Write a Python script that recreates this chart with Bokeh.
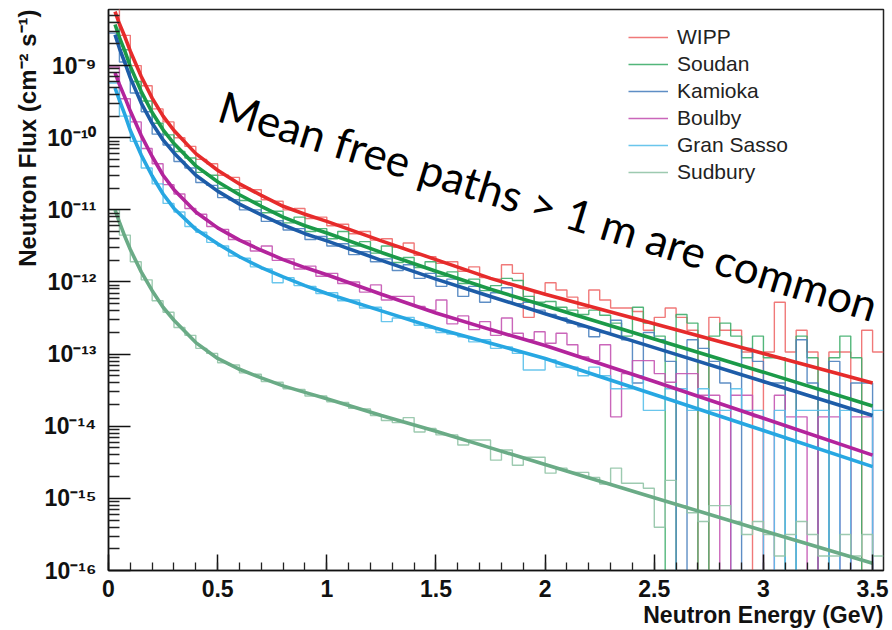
import numpy as np
from bokeh.plotting import figure
from bokeh.models import (Range1d, FixedTicker, CustomJSTickFormatter, Label,
                          Legend, LegendItem, Title)
from bokeh.embed import file_html
from bokeh.resources import INLINE

# ---------------- data (log10 of neutron flux, cm^-2 s^-1) ----------------
series_names = ["WIPP", "Soudan", "Kamioka", "Boulby", "Gran Sasso", "Sudbury"]
bin_width = 0.05          # GeV
n_bins = 71               # 0 .. 3.55 GeV

# histogram contents per 0.05 GeV bin, log10(flux); None = empty bin
hist_wipp = [
    -8.18, -8.58, -9.00, -9.28, -9.60, -9.78, -10.00, -10.12, -10.30, -10.36,
    -10.52, -10.55, -10.70, -10.72, -10.86, -10.88, -11.00, -10.98, -11.12, -11.10,
    -11.22, -11.20, -11.33, -11.30, -11.42, -11.40, -11.52, -11.46, -11.63, -11.65,
    -11.74, -11.72, -11.85, -11.79, -11.94, -11.96, -11.76, -11.88, -12.49, -12.15,
    -12.01, -12.11, -12.21, -12.36, -12.11, -12.25, -12.36, -12.36, -12.41, -12.67,
    -12.49, -12.36, -12.49, -12.67, None, -12.49, -12.67, -12.67, -12.97, None,
    -12.97, -12.28, -12.97, -12.67, -12.97, None, -12.97, -12.97, None, -12.67, -12.97]
hist_soudan = [
    -8.40, -8.78, -9.22, -9.49, -9.80, -9.96, -10.19, -10.28, -10.48, -10.52,
    -10.70, -10.72, -10.87, -10.88, -11.04, -11.02, -11.18, -11.10, -11.30, -11.26,
    -11.40, -11.30, -11.50, -11.44, -11.60, -11.50, -11.73, -11.66, -11.80, -11.72,
    -11.92, -11.86, -12.02, -11.96, -12.12, -12.05, -11.95, -11.98, -12.20, -12.28,
    -12.27, -12.35, -12.39, -12.45, -12.39, -12.46, -12.57, -12.75, -12.35, -12.57,
    -12.75, None, -12.45, -12.57, None, -12.75, -12.57, -12.75, -13.05, -12.75,
    -13.05, -13.05, None, -12.75, -13.05, None, -13.05, -12.75, -13.05, None, None]
hist_kamioka = [
    -8.55, -8.95, -9.38, -9.64, -9.95, -10.10, -10.33, -10.42, -10.62, -10.66,
    -10.83, -10.86, -11.00, -11.00, -11.16, -11.15, -11.28, -11.26, -11.41, -11.37,
    -11.50, -11.47, -11.62, -11.58, -11.72, -11.68, -11.84, -11.76, -11.95, -11.88,
    -12.06, -11.96, -12.20, -12.06, -12.28, -12.15, -12.08, -12.30, -12.28, -12.39,
    -12.45, -12.50, -12.57, -12.62, -12.76, -12.70, -12.53, -12.80, -13.40, -12.70,
    -12.80, -13.10, None, -12.80, -12.92, -13.10, -13.40, None, -12.92, -13.10,
    -13.40, -13.40, None, -12.80, -13.40, None, -13.10, None, -13.40, -13.40, None]
hist_boulby = [
    -9.02, -9.46, -9.78, -10.15, -10.36, -10.65, -10.78, -10.98, -11.06, -11.23,
    -11.27, -11.41, -11.43, -11.57, -11.50, -11.70, -11.68, -11.82, -11.78, -11.92,
    -11.88, -12.02, -12.00, -12.14, -12.04, -12.25, -12.20, -12.20, -12.34, -12.39,
    -12.25, -12.58, -12.47, -12.66, -12.55, -12.74, -12.50, -12.71, -12.80, -12.69,
    -12.85, -12.71, -12.87, -13.04, -13.09, -12.87, -13.87, -13.27, -13.09, -13.09,
    -13.27, -13.39, -13.27, -13.27, -13.57, -13.57, None, -13.57, -13.57, -13.87,
    None, -13.57, -13.87, -13.87, None, -13.87, -13.87, None, -13.87, -13.87, None]
hist_gransasso = [
    -9.24, -9.70, -10.05, -10.42, -10.64, -10.91, -11.03, -11.23, -11.31, -11.45,
    -11.50, -11.64, -11.67, -11.79, -11.82, -12.01, -11.94, -12.05, -12.06, -12.16,
    -12.15, -12.26, -12.25, -12.36, -12.35, -12.55, -12.50, -12.49, -12.60, -12.64,
    -12.70, -12.72, -12.76, -12.83, -12.80, -12.92, -12.90, -12.99, -13.22, -13.22,
    -13.08, -13.18, -13.18, -13.30, -13.18, -13.30, -13.48, -13.48, -13.30, -13.78,
    -13.78, -13.48, -13.48, -13.78, -13.48, -13.78, -13.78, -13.48, -13.78, -13.78,
    None, -13.78, None, -13.78, -13.78, -13.78, None, -13.78, None, None, -13.78]
hist_sudbury = [
    -11.00, -11.35, -11.72, -11.97, -12.26, -12.42, -12.63, -12.74, -12.92, -12.99,
    -13.12, -13.15, -13.26, -13.28, -13.38, -13.39, -13.48, -13.49, -13.58, -13.58,
    -13.66, -13.67, -13.75, -13.76, -13.85, -13.92, -13.95, -13.88, -14.08, -14.03,
    -14.12, -14.12, -14.26, -14.19, -14.19, -14.47, -14.33, -14.54, -14.43, -14.43,
    -14.65, -14.58, -14.64, -14.64, -14.71, -14.80, -14.58, -14.79, -14.79, -14.86,
    -15.40, -14.75, -15.10, -15.20, -15.32, -15.10, -15.10, -15.32, -15.50, -15.32,
    -15.50, -15.80, -15.50, -15.32, -15.50, -15.80, -15.80, -15.50, -15.80, -15.50, -15.80]

# fitted curves, log10(flux) at these energies (GeV)
fit_energy = [0.03, 0.05, 0.075, 0.1, 0.15, 0.2, 0.25, 0.3, 0.4, 0.5, 0.6,
              0.7, 0.8, 0.9, 1.0, 1.25, 1.5, 1.75, 2.0, 2.5, 3.0, 3.5]
fit_wipp = [-8.25, -8.42, -8.60, -8.80, -9.15, -9.45, -9.70, -9.90, -10.22, -10.45, -10.64,
            -10.80, -10.95, -11.06, -11.16, -11.43, -11.69, -11.95, -12.17, -12.58, -12.99, -13.40]
fit_soudan = [-8.43, -8.61, -8.80, -9.01, -9.36, -9.65, -9.89, -10.08, -10.39, -10.61, -10.79,
              -10.95, -11.10, -11.22, -11.32, -11.59, -11.85, -12.10, -12.33, -12.79, -13.25, -13.72]
fit_kamioka = [-8.57, -8.76, -8.96, -9.17, -9.52, -9.80, -10.03, -10.21, -10.52, -10.74, -10.92,
               -11.07, -11.21, -11.33, -11.43, -11.70, -11.96, -12.20, -12.44, -12.91, -13.38, -13.85]
fit_boulby = [-9.10, -9.26, -9.44, -9.63, -9.97, -10.26, -10.52, -10.72, -11.03, -11.25, -11.42,
              -11.56, -11.69, -11.80, -11.90, -12.17, -12.43, -12.66, -12.88, -13.38, -13.89, -14.40]
fit_gransasso = [-9.31, -9.48, -9.68, -9.90, -10.24, -10.53, -10.78, -10.98, -11.27, -11.47, -11.65,
                 -11.80, -11.93, -12.05, -12.16, -12.40, -12.64, -12.85, -13.06, -13.56, -14.06, -14.56]
fit_sudbury = [-11.00, -11.17, -11.37, -11.55, -11.86, -12.12, -12.35, -12.53, -12.84, -13.06, -13.21,
               -13.33, -13.44, -13.53, -13.62, -13.85, -14.07, -14.30, -14.53, -14.99, -15.45, -15.90]

x_tick_values = [0, 0.5, 1, 1.5, 2, 2.5, 3, 3.5]
y_tick_exponents = [-16, -15, -14, -13, -12, -11, -10, -9]
x_title = "Neutron Energy (GeV)"
y_title = "Neutron Flux (cm\u207b\u00b2 s\u207b\u00b9)"
note_text = "Mean free paths > 1 m are common"

hists = [hist_wipp, hist_soudan, hist_kamioka, hist_boulby, hist_gransasso, hist_sudbury]
fits = [fit_wipp, fit_soudan, fit_kamioka, fit_boulby, fit_gransasso, fit_sudbury]

fit_colors = ["#e62b2b", "#1b9a48", "#1d5ca8", "#b3249c", "#27a7e2", "#6aab86"]
hist_colors = ["#ee6a6a", "#3fae6b", "#4c82bf", "#c455b2", "#5ac0ea", "#92c4a7"]

# ---------------- figure ----------------
p = figure(width=892, height=630, output_backend="svg", toolbar_location=None,
           x_range=Range1d(0, 3.55), y_range=Range1d(1e-16, 6.0e-9),
           y_axis_type="log")
p.min_border_left = 108
p.min_border_right = 9
p.min_border_top = 9
p.min_border_bottom = 60
p.background_fill_color = "white"
p.border_fill_color = "white"
p.outline_line_color = "#222222"
p.outline_line_width = 1.5
p.xgrid.visible = False
p.ygrid.visible = False

edges = np.arange(n_bins + 1) * bin_width
floor = 1e-19
hist_renderers = []
for vals, col in zip(hists, hist_colors):
    flux = [10.0 ** v if v is not None else floor for v in vals]
    y = flux + [flux[-1]]
    r = p.step(x=edges, y=y, mode="after", line_color=col, line_width=1.4, line_alpha=0.9)
    hist_renderers.append(r)

for vals, col in zip(fits, fit_colors):
    p.line(x=fit_energy, y=[10.0 ** v for v in vals], line_color=col, line_width=3.6)

# ---------------- axes ----------------
font = "Liberation Sans"
xa = p.xaxis[0]
xa.ticker = FixedTicker(ticks=x_tick_values,
                        minor_ticks=list(np.round(np.arange(0, 3.55, 0.1), 2)))
xa.formatter = CustomJSTickFormatter(code="return String(Math.round(tick * 10) / 10);")
xa.major_tick_in = 16
xa.major_tick_out = 0
xa.minor_tick_in = 8
xa.minor_tick_out = 0
xa.major_label_standoff = 9

ya = p.yaxis[0]
ya.ticker = FixedTicker(ticks=[10.0 ** e for e in y_tick_exponents],
                        minor_ticks=[m * 10.0 ** e for e in range(-16, -8) for m in range(2, 10)])
ya.formatter = CustomJSTickFormatter(code="""
const sup = {"-": "\u207b", "0": "\u2070", "1": "\u00b9", "2": "\u00b2", "3": "\u00b3",
             "4": "\u2074", "5": "\u2075", "6": "\u2076", "7": "\u2077", "8": "\u2078", "9": "\u2079"};
const e = Math.round(Math.log10(tick));
return "10" + String(e).split("").map(c => sup[c]).join("");
""")
ya.major_tick_in = 22
ya.major_tick_out = 0
ya.minor_tick_in = 11
ya.minor_tick_out = 0
ya.major_label_standoff = 12

for ax in (xa, ya):
    ax.axis_line_color = "#111111"
    ax.axis_line_width = 1.5
    ax.major_tick_line_color = "#111111"
    ax.major_tick_line_width = 1.5
    ax.minor_tick_line_color = "#222222"
    ax.minor_tick_line_width = 1.3
    ax.major_label_text_font = font
    ax.major_label_text_font_style = "bold"
    ax.major_label_text_font_size = "23px"
    ax.major_label_text_color = "#111111"

# axis titles at the end of each axis (ROOT style)
p.add_layout(Title(text=x_title, align="right", standoff=0, offset=0,
                   text_font=font, text_font_style="bold", text_font_size="23px",
                   text_color="#111111"), "below")
p.add_layout(Title(text=y_title, align="right", standoff=0, offset=0,
                   text_font=font, text_font_style="bold", text_font_size="24px",
                   text_color="#111111"), "left")

# overlaid comment
p.add_layout(Label(x=112, y=466, x_units="screen", y_units="screen", angle=-0.298,
                   text=note_text, text_align="left",
                   text_baseline="alphabetic", text_font="Lato", text_font_size="44px",
                   text_color="black"))

legend = Legend(items=[LegendItem(label=n, renderers=[r]) for n, r in zip(series_names, hist_renderers)],
                location=(520, 386), orientation="vertical",
                label_text_font=font, label_text_font_size="21px", label_text_color="#222222",
                glyph_width=40, glyph_height=24, label_height=24, spacing=3, padding=0, margin=0,
                label_standoff=9, border_line_color=None, background_fill_alpha=0)
p.add_layout(legend)

open("out.html", "w").write(file_html(p, INLINE))
